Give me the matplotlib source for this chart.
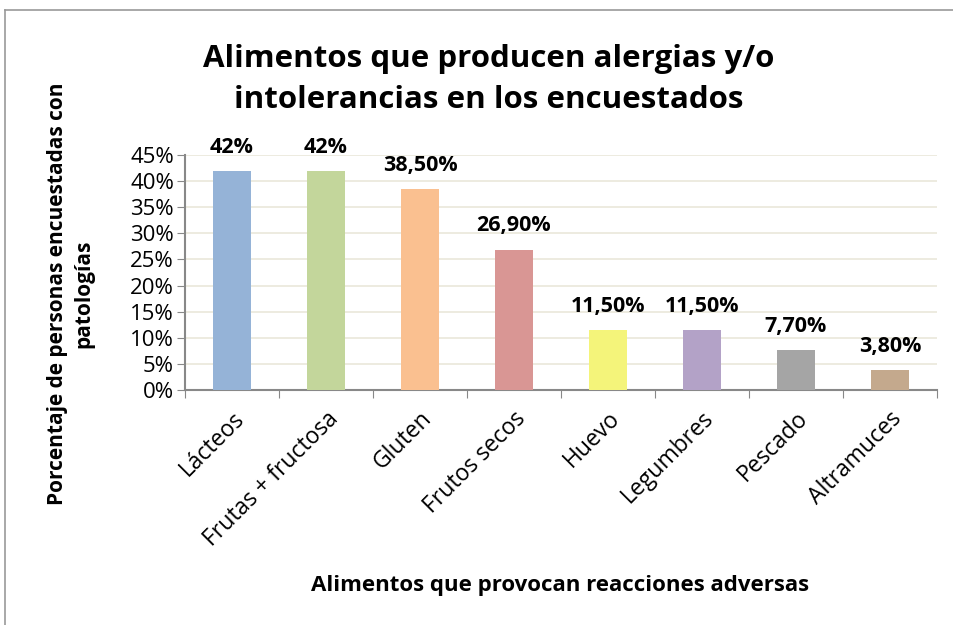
import matplotlib.pyplot as plt
from matplotlib.lines import Line2D

categorias = ['Lácteos', 'Frutas + fructosa', 'Gluten', 'Frutos secos',
              'Huevo', 'Legumbres', 'Pescado', 'Altramuces']
valores = [42, 42, 38.5, 26.9, 11.5, 11.5, 7.7, 3.8]
etiquetas = ['42%', '42%', '38,50%', '26,90%', '11,50%', '11,50%', '7,70%', '3,80%']
colores = ['#95B3D7', '#C3D69B', '#FAC090', '#D99694',
           '#F4F47A', '#B3A2C7', '#A5A5A5', '#C4A98D']

plt.rcParams['font.family'] = ['Open Sans', 'DejaVu Sans']

fig = plt.figure(figsize=(9.54, 6.25), dpi=100)
ax = fig.add_axes([0.194, 0.376, 0.788, 0.376])

x = range(len(categorias))
ax.bar(x, valores, width=0.4, color=colores, zorder=3)
for i, (v, t) in enumerate(zip(valores, etiquetas)):
    ax.text(i, v + 2.5, t, ha='center', va='bottom', fontsize=15.5,
            fontweight='bold')

ax.set_xlim(-0.5, len(categorias) - 0.5)
ax.set_ylim(0, 45)
ax.set_yticks(range(0, 46, 5))
ax.set_yticklabels([f'{t}%' for t in range(0, 46, 5)], fontsize=16)
ax.yaxis.grid(True, color='#EAE7DA', linewidth=1.2, zorder=0)

ax.set_xticks([i - 0.5 for i in range(len(categorias) + 1)])
ax.set_xticklabels([])
ax.set_xticks(list(x), minor=True)
ax.set_xticklabels(categorias, minor=True, rotation=45, ha='right',
                   rotation_mode='anchor', fontsize=16.5)
ax.tick_params(axis='x', which='minor', length=0, pad=12)
ax.tick_params(axis='x', which='major', length=6, color='#888888', direction='out')
ax.tick_params(axis='y', length=6, color='#888888', direction='out', pad=2)

for s in ['top', 'right']:
    ax.spines[s].set_visible(False)
for s in ['left', 'bottom']:
    ax.spines[s].set_color('#888888')
    ax.spines[s].set_linewidth(1.5)

fig.text(0.512, 0.873, 'Alimentos que producen alergias y/o\nintolerancias en los encuestados',
         ha='center', va='center', fontsize=22.5, fontweight='bold', linespacing=1.45)
fig.text(0.074, 0.53, 'Porcentaje de personas encuestadas con\npatologías',
         ha='center', va='center', rotation=90, fontsize=15, fontweight='bold',
         linespacing=1.35)
fig.text(0.587, 0.064, 'Alimentos que provocan reacciones adversas',
         ha='center', va='center', fontsize=16, fontweight='bold')

fig.add_artist(Line2D([0.005, 0.005], [0, 0.984], color='#999999', linewidth=1.2))
fig.add_artist(Line2D([0.005, 1], [0.984, 0.984], color='#999999', linewidth=1.2))

fig.savefig('out.png', dpi=100)
